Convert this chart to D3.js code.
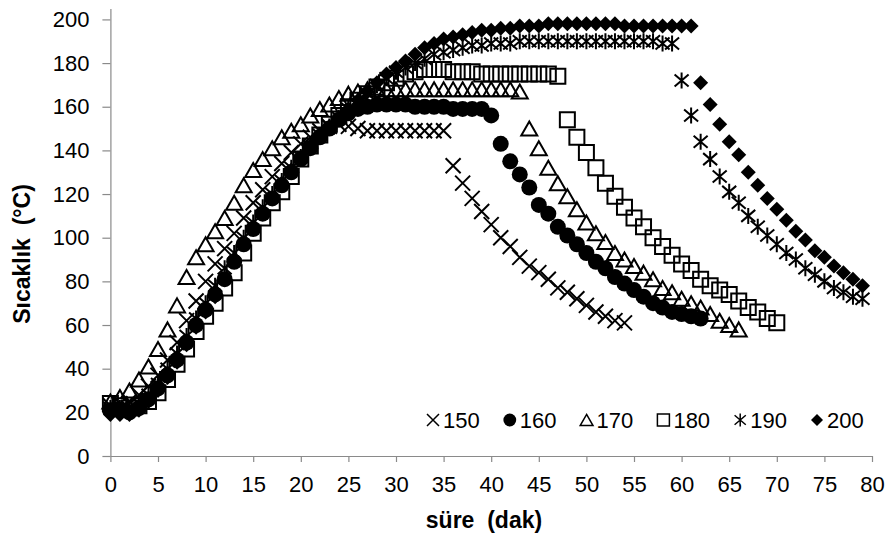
<!DOCTYPE html>
<html>
<head>
<meta charset="utf-8">
<script src="https://cdn.jsdelivr.net/npm/d3@7"></script>
<style>
  body { margin: 0; background: #fff; }
  svg { display: block; font-family: "Liberation Sans", Arial, sans-serif; }
</style>
</head>
<body>
<svg width="886" height="544"></svg>
<script>
// temperatures (°C), one reading per minute starting at minute 0
const s150 = [23, 24, 25, 28, 32, 37, 44, 52, 62, 71,
    80, 88, 95, 102, 109, 116, 122, 128, 134, 139,
    143, 146, 149, 151, 152, 151, 150, 149, 149, 149,
    149, 149, 149, 149, 149, 149,
    133, 125, 118, 112, 106, 100, 96, 91, 87, 84, 81, 77, 75, 72, 69, 66, 64, 62, 61]

const s160 = [21, 21, 20, 22, 26, 31, 37, 44, 52, 60,
    67, 74, 81, 89, 97, 104, 111, 118, 124, 130,
    136, 141, 146, 150, 154, 157, 159, 160, 161, 161,
    161, 161, 160, 160, 160, 160, 159, 159, 159, 159,
    156,
    143, 135, 129, 123, 115, 111, 105, 101, 97, 93, 89, 86, 82, 79, 76, 73, 70, 68, 66, 65, 64, 63]

const s170 = [25, 27, 30, 35, 41, 49, 58, 69, 82, 91,
    97, 103, 109, 116, 124, 131, 136, 141, 146, 149,
    152, 156, 159, 161, 164, 166, 167, 168, 168, 168,
    168, 168, 168, 168, 168, 168, 168, 168, 168, 168,
    168, 168, 168, 167,
    150, 141, 132, 125, 119, 113, 107, 102, 98, 93, 90, 87, 84, 81, 77, 75, 72, 70, 68, 65, 62, 60, 58]

const s180 = [24, 23, 22, 23, 25, 29, 35, 42, 49, 57,
    64, 70, 77, 84, 93, 102, 109, 116, 121, 128,
    136, 142, 147, 152, 156, 160, 163, 166, 169, 171,
    173, 175, 176, 177, 177, 177, 176, 176, 176, 175,
    175, 175, 175, 175, 175, 175, 175, 174,
    154, 146, 139, 132, 125, 119, 114, 109, 105, 100, 96, 92, 88, 85, 81, 78, 76, 74, 71, 68, 66, 63, 61]

const s190 = [22, 22, 22, 24, 28, 33, 40, 47, 55, 63,
    70, 78, 86, 93, 100, 107, 114, 120, 126, 132,
    137, 142, 147, 151, 155, 159, 163, 166, 170, 173,
    176, 178, 180, 182, 184, 185, 186, 187, 188, 188,
    189, 189, 189, 190, 190, 190, 190, 190, 190, 190,
    190, 190, 190, 190, 190, 190, 190, 190, 189, 189,
    172, 156, 144, 136, 128, 121, 116, 110, 105, 101, 97, 93, 90, 86, 83, 80, 77, 75, 73, 72]

const s200 = [19, 19, 19, 21, 25, 30, 36, 43, 51, 59,
    66, 73, 81, 89, 97, 104, 111, 118, 125, 131,
    137, 142, 147, 151, 155, 159, 163, 167, 171, 175,
    178, 181, 184, 187, 189, 191, 192, 193, 194, 195,
    195, 196, 196, 197, 197, 197, 198, 198, 198, 198,
    198, 198, 198, 198, 197, 197, 197, 197, 197, 197,
    197, 197,
    171, 161, 152, 144, 138, 130, 124, 118, 113, 108, 103, 99, 94, 91, 87, 84, 81, 78]

const seriesNames = ["150", "160", "170", "180", "190", "200"]
const seriesShapes = ["cross", "circle", "triangle", "square", "star", "diamond"]
const seriesValues = [s150, s160, s170, s180, s190, s200]

const xTicks = d3.range(0, 81, 5)
const yTicks = d3.range(0, 201, 20)

const svg = d3.select("svg")

const x = d3.scaleLinear().domain([0, 80]).range([110.4, 872])
const y = d3.scaleLinear().domain([0, 205]).range([456, 8.5])

const axisColor = "#8a8a8a"

// y axis
const gy = svg.append("g")
    .attr("transform", "translate(110.4,0)")
    .call(d3.axisLeft(y).tickValues(yTicks).tickSize(8).tickSizeOuter(0).tickPadding(13))
gy.selectAll("text").attr("font-size", 22).attr("fill", "#000").attr("font-family", null)

// x axis
const gx = svg.append("g")
    .attr("transform", "translate(0,456)")
    .call(d3.axisBottom(x).tickValues(xTicks).tickSize(6).tickSizeOuter(0).tickPadding(14))
gx.selectAll("text").attr("font-size", 22).attr("fill", "#000").attr("font-family", null)

svg.selectAll(".domain, .tick line").attr("stroke", axisColor).attr("stroke-width", 1.2)
svg.selectAll("g").attr("font-family", null)

// axis titles
svg.append("text")
    .attr("x", 484).attr("y", 528)
    .attr("text-anchor", "middle")
    .attr("font-size", 23).attr("font-weight", "bold")
    .attr("xml:space", "preserve")
    .text("süre  (dak)")

svg.append("text")
    .attr("transform", "translate(30,254) rotate(-90)")
    .attr("text-anchor", "middle")
    .attr("font-size", 23).attr("font-weight", "bold")
    .attr("xml:space", "preserve")
    .text("Sıcaklık  (°C)")

// marker shapes
const markerPath = (shape, k) => {
    const s = 7.5 * k
    switch (shape) {
        case "cross": return `M${-s},${-s}L${s},${s}M${-s},${s}L${s},${-s}`
        case "circle": return `M${-8 * k},0A${8 * k},${8 * k} 0 1,0 ${8 * k},0A${8 * k},${8 * k} 0 1,0 ${-8 * k},0Z`
        case "triangle": return `M0,${-7 * k}L${8 * k},${7 * k}L${-8 * k},${7 * k}Z`
        case "square": return `M${-s},${-s}H${s}V${s}H${-s}Z`
        case "star": return `M0,${-8 * k}V${8 * k}M${-7 * k},${-6 * k}L${7 * k},${6 * k}M${-7 * k},${6 * k}L${7 * k},${-6 * k}`
        case "diamond": return `M0,${-s}L${s},0L0,${s}L${-s},0Z`
    }
}
const filled = shape => shape === "circle" || shape === "diamond"

seriesValues.forEach((vals, i) => {
    const shape = seriesShapes[i]
    svg.append("g")
        .selectAll("path")
        .data(vals)
        .enter()
        .append("path")
        .attr("transform", (d, t) => `translate(${x(t)},${y(d)})`)
        .attr("d", markerPath(shape, 1))
        .attr("fill", filled(shape) ? "#000" : "none")
        .attr("stroke", filled(shape) ? "none" : "#000")
        .attr("stroke-width", 2)
})

// legend
const legend = svg.append("g").attr("transform", "translate(433,420)")
seriesNames.forEach((name, i) => {
    const shape = seriesShapes[i]
    const g = legend.append("g").attr("transform", `translate(${i * 76.8},0)`)
    g.append("path")
        .attr("d", markerPath(shape, 0.8))
        .attr("fill", filled(shape) ? "#000" : "none")
        .attr("stroke", filled(shape) ? "none" : "#000")
        .attr("stroke-width", 1.5)
    g.append("text")
        .attr("x", 10).attr("y", 8)
        .attr("font-size", 22)
        .text(name)
})
</script>
</body>
</html>
